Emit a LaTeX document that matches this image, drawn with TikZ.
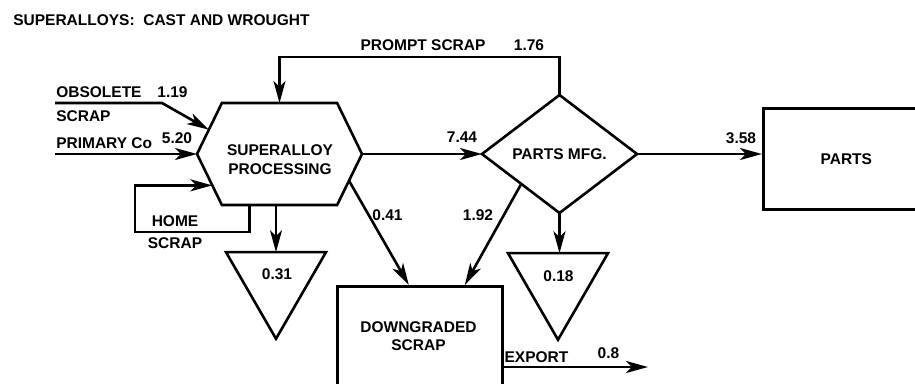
\documentclass[tikz,border=0pt]{standalone}
\usepackage{fontspec}
\setmainfont{Liberation Sans}
\usetikzlibrary{arrows.meta,shapes.geometric,shapes.symbols,calc}
\begin{document}
\begin{tikzpicture}[x=1pt,y=-1pt,
  line width=2.6pt, line join=miter,
  lbl/.style={font=\fontsize{15.5}{18}\selectfont\bfseries, inner sep=0pt, align=center},
  flow/.style={-{Stealth[length=22pt,width=12pt,inset=6pt]}},
  box/.style={draw, rectangle, inner sep=0pt},
  sink/.style={draw, regular polygon, regular polygon sides=3,
    shape border rotate=180, minimum size=115.5pt, inner sep=0pt, outer sep=0pt},
]
\useasboundingbox (0,0) rectangle (915,383);
\clip (0,0) rectangle (915,383);

% title
\node[lbl, anchor=west] (title) at (12,20) {SUPERALLOYS:\ \ CAST AND WROUGHT};

% process blocks
\node[draw, signal, signal to=east and west, signal pointer angle=128,
  minimum width=165pt, minimum height=102pt, inner sep=0pt, outer sep=0pt] (proc) at (279.5,154) {};
\node[lbl] (proct) at (280,159.5) {SUPERALLOY\\[1pt]PROCESSING};

\node[draw, diamond, minimum width=155pt, minimum height=118pt, inner sep=0pt, outer sep=0pt, lbl] (pm) at (559.5,154) {PARTS MFG.};

\node[box, anchor=north west, minimum width=166pt, minimum height=101pt, lbl] (parts) at (762,107) {PARTS};

\node[box, anchor=north west, minimum width=165pt, minimum height=140pt] (ds) at (336,285) {};
\node[lbl] (dst) at (418.5,336) {DOWNGRADED\\SCRAP};

% losses
\node[sink] (s1) at (276,281) {};
\node[lbl] (s1t) at (277,274) {0.31};
\node[sink] (s2) at (558,282) {};
\node[lbl] (s2t) at (558.5,276) {0.18};

% free ends
\coordinate (obs) at (55,103);
\coordinate (prim) at (55,153);
\coordinate (homel) at (135,232);
\coordinate (pstop) at (560,57);
\coordinate (expend) at (648,367);

% flows
\draw[flow] (obs) -- ++(107,0) -- (proc.161);
\draw[flow] (prim |- proc.west) -- (proc.west);
\draw[flow] ($(proc.south)+(-30,0)$) |- (homel) |- (proc.205);
\draw[flow] (pm.north) -- (pm.north |- pstop) -| (proc.north);
\draw[flow] (proc.east) -- (pm.west);
\draw[flow] (pm.east) -- (pm.east -| parts.west);
\draw[flow] (proc.south -| s1.north) -- (s1.north);
\draw[flow] (proc.-21) -- ($(ds.north)+(-11,0)$);
\draw[flow] (pm.-142) -- ($(ds.north)+(45,0)$);
\draw[flow] (pm.south) -- (pm.south |- s2.north);
\draw[flow] (ds.east |- expend) -- (expend);

% flow labels
\node[lbl, anchor=west] (obsl) at (55,92) {OBSOLETE};
\node[lbl, anchor=west] (obsl2) at (55,116) {SCRAP};
\node[lbl] (v119) at (172.5,92) {1.19};
\node[lbl, anchor=west] (priml) at (55,143) {PRIMARY Co};
\node[lbl] (v520) at (177,138) {5.20};
\node[lbl] (homet) at (175,221) {HOME};
\node[lbl] (homet2) at (175,243) {SCRAP};
\node[lbl] (pst) at (423,45) {PROMPT SCRAP};
\node[lbl] (v176) at (529,45) {1.76};
\node[lbl] (v744) at (462,137) {7.44};
\node[lbl] (v358) at (741,138) {3.58};
\node[lbl] (v041) at (387.5,215) {0.41};
\node[lbl] (v192) at (478,215) {1.92};
\node[lbl] (expt) at (536.5,357) {EXPORT};
\node[lbl] (v08) at (608.5,353) {0.8};
\end{tikzpicture}
\end{document}
